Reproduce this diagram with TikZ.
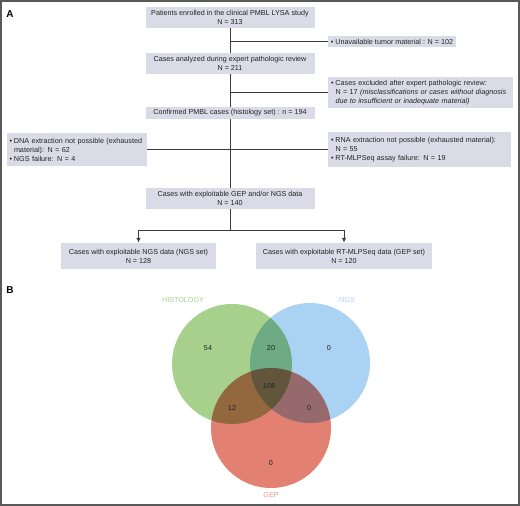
\documentclass[tikz,border=0pt]{standalone}
\usepackage{fontspec}
\setmainfont{Liberation Sans}
\usetikzlibrary{arrows.meta,positioning,calc}
\definecolor{boxgray}{RGB}{218,219,231}
\definecolor{linegray}{RGB}{60,60,60}
\definecolor{txtgray}{RGB}{35,35,35}
\definecolor{histgreen}{RGB}{166,208,140}
\definecolor{ngsblue}{RGB}{170,210,242}
\definecolor{gepred}{RGB}{226,128,114}
\newcommand{\bul}{\makebox[4.5pt][l]{•}}
\newcommand{\ind}{\hspace*{4.5pt}}

\begin{document}
\begin{tikzpicture}[x=1pt,y=-1pt]
\tikzset{box/.style={fill=boxgray,align=center,inner sep=0pt,minimum width=169pt,minimum height=21pt,text=txtgray,font=\fontsize{7.2}{9}\selectfont},
  side/.style={fill=boxgray,align=left,inner xsep=3pt,inner ysep=0pt,text=txtgray,font=\fontsize{7.2}{9}\selectfont},
  link/.style={draw=linegray,line width=0.9pt},
  venn/.style={text=txtgray,font=\fontsize{7.2}{9}\selectfont},
  panel/.style={font=\fontsize{10}{12}\selectfont\bfseries}}
\useasboundingbox (0,0) rectangle (520,506);
\draw[linegray!85,line width=2pt] (1,1) rectangle (519,505);
\node[panel] (pA) at (10,14) {A};
\node[panel] (pB) at (10,290) {B};
\node[box] (enrol) at (230,17) {Patients enrolled in the clinical PMBL LYSA study\\N = 313};
\node[box] (review) at (230,63.5) {Cases analyzed during expert pathologic review\\N = 211};
\node[box,minimum height=12pt] (confirm) at (230,113) {Confirmed PMBL cases (histology set) : n = 194};
\node[box] (usable) at (230,198.5) {Cases with exploitable GEP and/or NGS data\\N = 140};
\node[box,minimum width=155pt,minimum height=26pt] (ngsset) at (138.5,256) {Cases with exploitable NGS data (NGS set)\\N = 128};
\node[box,minimum width=176pt,minimum height=26pt] (gepset) at (344,256) {Cases with exploitable RT-MLPSeq data (GEP set)\\N = 120};
\node[side,minimum width=128pt,minimum height=11pt] (unavail) at (392,41.5) {\bul Unavailable tumor material : N = 102};
\node[side,text width=179pt,minimum height=31pt] (excl) at (420.5,92.5) {\bul Cases excluded after expert pathologic review:\\\ind N = 17 \textit{(misclassifications or cases without diagnosis}\\\ind\textit{due to insufficient or inadequate material)}};
\node[side,text width=135pt,inner xsep=2.5pt,minimum height=33pt] (dna) at (77,149.5) {\bul DNA extraction not possible (exhausted\\\ind material): N = 62\\\bul NGS failure: N = 4};
\node[side,text width=177pt,minimum height=35pt] (rna) at (419.5,149.5) {\bul RNA extraction not possible (exhausted material):\\\ind N = 55\\\bul RT-MLPSeq assay failure: N = 19};
\draw[link] (enrol) -- (review);
\draw[link] (review) -- (confirm);
\draw[link] (confirm) -- (usable);
\draw[link] (unavail.west -| enrol.south) -- (unavail.west);
\draw[link] (excl.west -| review.south) -- (excl.west);
\draw[link] (dna) -- (rna);
\coordinate (fork) at (230,230);
\draw[link] (usable) -- (fork);
\draw[link,-{Latex[length=5pt,width=4.5pt]}] (fork) -| (ngsset);
\draw[link,-{Latex[length=5pt,width=4.5pt]}] (fork) -| (gepset);
\begin{scope}[blend mode=multiply]
\fill[histgreen] (232,364) circle (60pt);
\fill[ngsblue] (310,363) circle (60pt);
\fill[gepred] (271,428) circle (60pt);
\end{scope}
\node[venn,text=histgreen] (histlbl) at (183,300) {HISTOLOGY};
\node[venn,text=ngsblue] (ngslbl) at (347,300) {NGS};
\node[venn,text=gepred!80] (geplbl) at (271,495) {GEP};
\node[venn] (onlyhist) at (208,348) {54};
\node[venn] (histngs) at (271,348) {20};
\node[venn] (onlyngs) at (329,348) {0};
\node[venn] (allthree) at (269,386) {108};
\node[venn] (histgep) at (232,408) {12};
\node[venn] (ngsgep) at (309,408) {0};
\node[venn] (onlygep) at (271,463) {0};
\end{tikzpicture}
\end{document}
